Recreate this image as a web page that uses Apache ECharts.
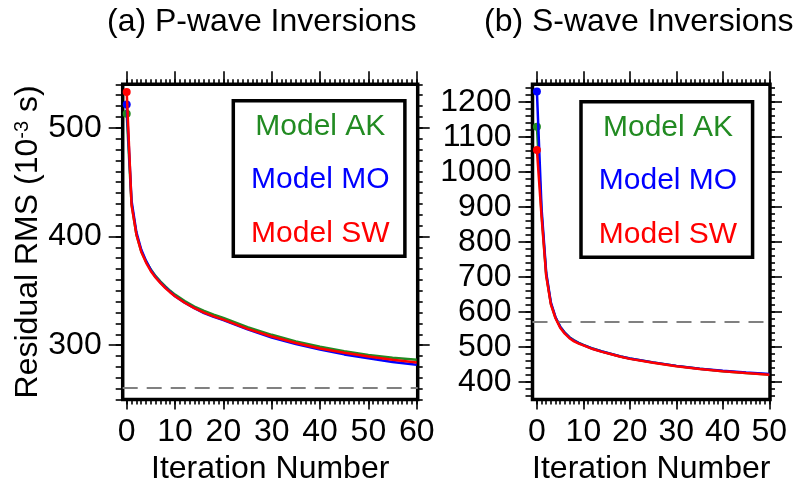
<!DOCTYPE html>
<html>
<head>
<meta charset="utf-8">
<title>RMS vs iteration</title>
<script src="https://cdn.jsdelivr.net/npm/echarts@6/dist/echarts.min.js"></script>
<style>
  html, body { margin: 0; padding: 0; background: #fff; }
  #chart { width: 807px; height: 481px; }
</style>
</head>
<body>
<div id="chart"></div>
<script>
// (a) P-wave residual RMS (10^-3 s) per iteration
const pIter = [0, 1, 2, 3, 4, 5, 6, 7, 8, 9, 10, 12, 14, 16, 18, 20, 25, 30, 35, 40, 45, 50, 55, 60];
const pAK = [513, 430, 402, 386.5, 377, 369.5, 363.5, 358.5, 354, 350, 346.5, 340.5, 335.5, 331.5, 328, 325, 316.5, 309.5, 303.5, 298.5, 294.5, 291, 288.5, 286.5];
const pMO = [521.5, 433, 404, 388, 377.5, 369, 362.5, 357.5, 353, 349, 345, 339, 334, 329.5, 326, 323, 314.5, 307, 301, 296, 291.5, 288, 284.5, 282];
const pSW = [533, 429, 402, 386, 376, 368, 362, 357, 352.5, 348.5, 345, 339, 334, 330, 326.5, 323.5, 315, 308, 302, 297, 293, 289.5, 286.5, 284];
const pTarget = 261;

// (b) S-wave residual RMS (10^-3 s) per iteration
const sIter = [0, 1, 2, 3, 4, 5, 6, 7, 8, 9, 10, 12, 14, 16, 18, 20, 25, 30, 35, 40, 45, 50];
const sAK = [1129, 880, 706, 624, 584, 558, 541, 528, 519, 512, 506, 495.5, 487, 480, 473, 467, 455.5, 445.5, 437.5, 431, 426, 421.5];
const sMO = [1229.5, 895, 712, 627, 585, 558, 540, 527, 518, 511, 505.5, 495, 487, 480, 473, 467, 456, 446, 438, 432, 427, 423];
const sSW = [1062.5, 872, 703, 622, 582, 555, 538, 525, 516, 509.5, 504.5, 494, 486, 479, 472, 466, 455, 445, 437, 431, 425.5, 421];
const sTarget = 572;

// tick labels
const pXTicks = [0, 10, 20, 30, 40, 50, 60];
const pYTicks = [300, 400, 500];
const sXTicks = [0, 10, 20, 30, 40, 50];
const sYTicks = [400, 500, 600, 700, 800, 900, 1000, 1100, 1200];

const font = "Liberation Sans, Arial, Helvetica, sans-serif";
const colors = { "Model AK": "#228b22", "Model MO": "#0000ff", "Model SW": "#ff0000" };

function steps(a, b, step) {
  const out = [];
  for (let v = a; v <= b + 1e-9; v += step) out.push(v);
  return out;
}

const panels = [
  {
    grid: { left: 122.7, top: 84.3, width: 295, height: 315.2 },
    xMin: -0.83, xMax: 60.2, yMin: 250, yMax: 540,
    xTicks: pXTicks, yTicks: pYTicks,
    xMinor: steps(0, 60, 1), yMinor: steps(250, 540, 10),
    iter: pIter, series: { "Model AK": pAK, "Model MO": pMO, "Model SW": pSW },
    target: pTarget,
    legend: { left: 233.3, top: 100.7 },
    yName: "{n|Residual RMS (10}{s|-3}{n| s)}",
  },
  {
    grid: { left: 532.5, top: 84.3, width: 237.5, height: 315.2 },
    xMin: -0.95, xMax: 50.15, yMin: 350, yMax: 1250,
    xTicks: sXTicks, yTicks: sYTicks,
    xMinor: steps(0, 50, 1), yMinor: steps(360, 1240, 20),
    iter: sIter, series: { "Model AK": sAK, "Model MO": sMO, "Model SW": sSW },
    target: sTarget,
    legend: { left: 581, top: 101.7 },
    yName: "",
  },
];

const tickLine = { color: "#000", width: 1.6 };
const plain = (v) => String(v);
const grids = [], xAxes = [], yAxes = [], series = [], legends = [];

panels.forEach((p, i) => {
  grids.push(Object.assign({
    show: true, borderColor: "#000", borderWidth: 3.5, backgroundColor: "transparent",
    outerBoundsMode: "none", // keep the frame exactly where it is placed
  }, p.grid));

  const xBase = { gridIndex: i, type: "value", min: p.xMin, max: p.xMax, axisLine: { show: false, onZero: false }, splitLine: { show: false } };
  const yBase = { gridIndex: i, type: "value", min: p.yMin, max: p.yMax, axisLine: { show: false, onZero: false }, splitLine: { show: false } };
  const noLabel = { show: false };

  // bottom: labelled major ticks, then minor ticks
  xAxes.push(Object.assign({}, xBase, {
    position: "bottom",
    axisTick: { customValues: p.xTicks, length: 10, lineStyle: tickLine },
    axisLabel: { customValues: p.xTicks, formatter: plain, margin: 16.5, fontSize: 32, color: "#000", fontFamily: font },
    name: "Iteration Number",
    nameLocation: "middle",
    nameGap: 45,
    nameTextStyle: { fontSize: 32, color: "#000", fontFamily: font },
  }));
  xAxes.push(Object.assign({}, xBase, { position: "bottom", axisTick: { customValues: p.xMinor, length: 5, lineStyle: tickLine }, axisLabel: noLabel }));
  xAxes.push(Object.assign({}, xBase, { position: "top", axisTick: { customValues: p.xTicks, length: 13, lineStyle: tickLine }, axisLabel: noLabel }));
  xAxes.push(Object.assign({}, xBase, { position: "top", axisTick: { customValues: p.xMinor, length: 5, lineStyle: tickLine }, axisLabel: noLabel }));

  yAxes.push(Object.assign({}, yBase, {
    position: "left",
    axisTick: { customValues: p.yTicks, length: 14, lineStyle: tickLine },
    axisLabel: { customValues: p.yTicks, formatter: plain, margin: 21, fontSize: 32, color: "#000", fontFamily: font },
    name: p.yName,
    nameLocation: "middle",
    nameGap: 78.7,
    nameTextStyle: {
      fontSize: 32, color: "#000", fontFamily: font,
      rich: {
        n: { fontSize: 32, color: "#000", fontFamily: font },
        s: { fontSize: 20, color: "#000", fontFamily: font, verticalAlign: "top" },
      },
    },
  }));
  yAxes.push(Object.assign({}, yBase, { position: "left", axisTick: { customValues: p.yMinor, length: 7, lineStyle: tickLine }, axisLabel: noLabel }));
  yAxes.push(Object.assign({}, yBase, { position: "right", axisTick: { customValues: p.yTicks, length: 12, lineStyle: tickLine }, axisLabel: noLabel }));
  yAxes.push(Object.assign({}, yBase, { position: "right", axisTick: { customValues: p.yMinor, length: 5, lineStyle: tickLine }, axisLabel: noLabel }));

  Object.keys(p.series).forEach((name, k) => {
    const vals = p.series[name];
    const s = {
      type: "line",
      name: name,
      xAxisIndex: 4 * i,
      yAxisIndex: 4 * i,
      // only the starting model (iteration 0) gets a dot
      data: p.iter.map((x, j) => (j === 0 ? [x, vals[j]] : { value: [x, vals[j]], symbol: "none" })),
      symbol: "circle",
      symbolSize: 8,
      showSymbol: true,
      lineStyle: { width: 2.5, color: colors[name] },
      itemStyle: { color: colors[name] },
      silent: true,
      z: 3 + k,
    };
    if (k === 0) {
      s.markLine = {
        silent: true,
        symbol: ["none", "none"],
        label: { show: false },
        lineStyle: { color: "#808080", type: [15, 9], width: 2 },
        data: [{ yAxis: p.target }],
      };
    }
    series.push(s);
  });

  legends.push({
    left: p.legend.left,
    top: p.legend.top,
    orient: "vertical",
    icon: "none",
    itemWidth: 0,
    itemHeight: 30,
    itemGap: 23.3,
    padding: [11, 15.4, 8, 12],
    borderColor: "#000",
    borderWidth: 3.5,
    selectedMode: false,
    formatter: "{c|{name}}",
    textStyle: {
      fontSize: 30, fontFamily: font,
      rich: { c: { width: 140, align: "center", fontSize: 30, fontFamily: font } },
    },
    data: Object.keys(p.series).map((name) => ({ name: name, textStyle: { color: colors[name] } })),
  });
});

const chart = echarts.init(document.getElementById("chart"));
chart.setOption({
  animation: false,
  backgroundColor: "#fff",
  title: [
    { text: "(a) P-wave Inversions", left: 107, top: 6, padding: 0, textStyle: { fontSize: 32, fontWeight: "normal", color: "#000", fontFamily: font } },
    { text: "(b) S-wave Inversions", left: 484, top: 6, padding: 0, textStyle: { fontSize: 32, fontWeight: "normal", color: "#000", fontFamily: font } },
  ],
  legend: legends,
  grid: grids,
  xAxis: xAxes,
  yAxis: yAxes,
  series: series,
});
</script>
</body>
</html>
